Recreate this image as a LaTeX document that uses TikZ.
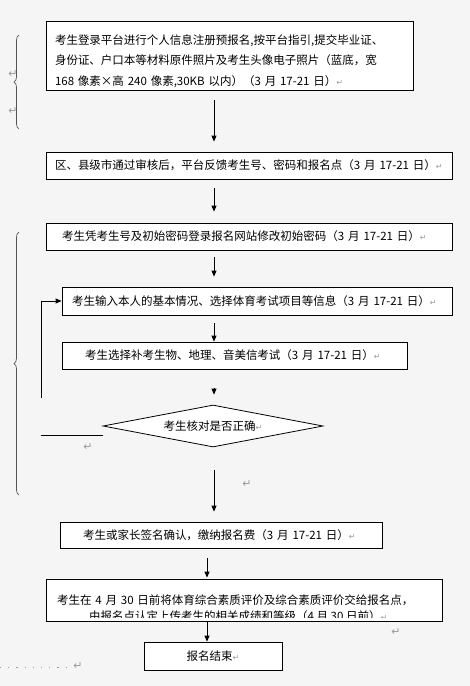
\documentclass[tikz,border=0pt]{standalone}
\usepackage{fontspec}
\usepackage{xcolor}
\usepackage{tikz}
\usetikzlibrary{arrows.meta,shapes.geometric,decorations.pathreplacing}

\newfontfamily\cjk{Noto Sans CJK SC}
\newfontfamily\symfont{DejaVu Sans}

\definecolor{pagegray}{HTML}{F5F5F5}
\definecolor{markgray}{HTML}{9A9A9A}
\definecolor{bracegray}{HTML}{555555}

\newcommand{\retmark}{{\symfont\fontsize{8}{8}\selectfont\color{markgray}↵}}
\newcommand{\bigret}{{\symfont\fontsize{11}{11}\selectfont\color{markgray}↵}}

\tikzset{
  stepbox/.style={draw, fill=white, line width=0.8pt, inner ysep=0pt, align=left,
    font=\cjk\fontsize{11.5}{20.5}\selectfont},
  check/.style={diamond, draw, fill=white, line width=0.8pt, inner sep=0pt, aspect=5,
    font=\cjk\fontsize{11.5}{14}\selectfont},
  flow/.style={line width=0.8pt, -{Triangle[length=6pt,width=5pt]}},
  plain/.style={line width=0.8pt},
  brace/.style={decorate, decoration={brace, amplitude=5pt}, draw=bracegray, line width=0.7pt},
  leader/.style={markgray, line width=1pt, dash pattern=on 1.2pt off 7pt}
}

\begin{document}
\begin{tikzpicture}[x=1pt, y=-1pt]
%% Page %%
\fill[pagegray] (0,0) rectangle (470,686);
\useasboundingbox (0,0) rectangle (470,686);

%% Steps %%
\node[stepbox, text width=349pt, inner xsep=9pt, minimum height=69pt, text height=10pt, text depth=33pt] (reg) at (229.5,55.5)
  {考生登录平台进行个人信息注册预报名,按平台指引,提交毕业证、\\身份证、户口本等材料原件照片及考生头像电子照片（蓝底，宽\\168 像素×高 240 像素,30KB 以内）（3 月 17-21 日）\retmark};

\node[stepbox, text width=388pt, inner xsep=9pt, minimum height=27pt] (audit) at (249,165.5)
  {区、县级市通过审核后，平台反馈考生号、密码和报名点（3 月 17-21 日）\retmark};

\node[stepbox, text width=374pt, inner xsep=16pt, minimum height=27pt] (pwd) at (249,236.5)
  {考生凭考生号及初始密码登录报名网站修改初始密码（3 月 17-21 日）\retmark};

\node[stepbox, text width=370pt, inner xsep=10pt, minimum height=28pt] (info) at (257,301)
  {考生输入本人的基本情况、选择体育考试项目等信息（3 月 17-21 日）\retmark};

\node[stepbox, text width=299pt, inner xsep=23pt, minimum height=27pt] (extra) at (234.5,355.5)
  {考生选择补考生物、地理、音美信考试（3 月 17-21 日）\retmark};

\node[check, minimum width=220pt, minimum height=42pt] (chk) at (213,426)
  {考生核对是否正确\retmark};

\node[stepbox, text width=276pt, inner xsep=23pt, minimum height=26pt] (sign) at (221,535)
  {考生或家长签名确认，缴纳报名费（3 月 17-21 日）\retmark};

\node[stepbox, text width=374pt, inner xsep=11pt, minimum height=42pt, text height=14pt, text depth=5pt] (eval) at (244,600)
  {考生在 4 月 30 日前将体育综合素质评价及综合素质评价交给报名点，};
\begin{scope}
\clip (eval.north west) rectangle ([yshift=4pt]eval.south east);
\node[font=\cjk\fontsize{11.5}{14}\selectfont, anchor=west, inner sep=0pt] (evaltwo) at (89,616)
  {由报名点认定上传考生的相关成绩和等级（4 月 30 日前）\retmark};
\end{scope}

\node[stepbox, align=center, minimum width=138pt, minimum height=28pt] (finish) at (213,656)
  {报名结束\retmark};

%% Arrows %%
\coordinate (colA) at (214,0);
\coordinate (colB) at (207,0);

\draw[flow, shorten <=10pt, shorten >=10pt] (reg.south -| colA) -- (audit.north -| colA);
\draw[flow, shorten <=9pt, shorten >=11pt] (audit.south -| colA) -- (pwd.north -| colA);
\draw[flow, shorten <=7pt, shorten >=10pt] (pwd.south -| colA) -- (info.north -| colA);
\draw[flow, shorten <=8pt] (info.south -| colA) -- (extra.north -| colA);
\draw[flow, shorten <=19pt, shorten >=10pt] (extra.south -| colA) -- (chk.north -| colA);
\draw[flow, shorten <=23pt, shorten >=10pt] (chk.south -| colA) -- (sign.north -| colA);
\draw[flow, shorten <=10pt, shorten >=1pt] (sign.south -| colB) -- (eval.north -| colB);
\draw[flow] (eval.south -| colB) -- (finish.north -| colB);

%% Back loop %%
\coordinate (back) at (41,398);
\coordinate (side) at (41,435);
\draw[flow] (back) |- (info.west);
\draw[plain] (side) -- (side -| chk.west);

%% Braces %%
\draw[brace] (19,129) -- (19,35);
\draw[brace] (19,495) -- (19,232);

%% Marks %%
\node (ma) at (13,74) {\bigret};
\node (mb) at (13,111) {\bigret};
\node (mc) at (88,447) {\bigret};
\node (md) at (247,484) {\bigret};
\node (me) at (396,632) {\bigret};
\draw[leader] (0,667) -- (70,667);
\node (mf) at (78,666) {\bigret};

\end{tikzpicture}
\end{document}
